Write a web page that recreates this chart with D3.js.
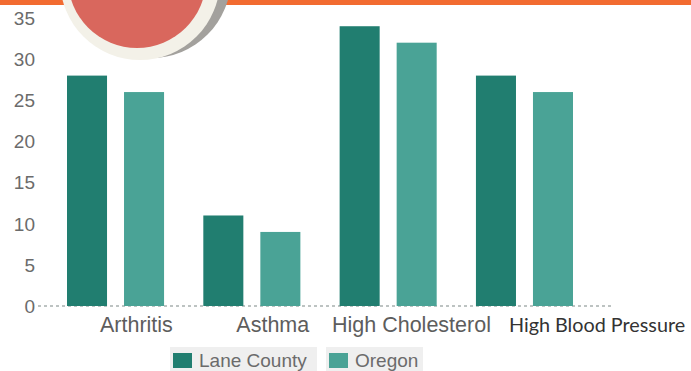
<!DOCTYPE html>
<html lang="en">
<head>
    <meta charset="UTF-8">
    <title>Chronic Conditions: Lane County vs Oregon</title>
    <script src="https://d3js.org/d3.v7.min.js"></script>
    <style>
        body {
            margin: 0;
            background: #fff;
            font-family: "Liberation Sans", Arial, sans-serif;
        }
        svg {
            display: block;
        }
        .tick-label {
            fill: #6b6b6b;
            font-size: 19px;
        }
        .cat-label {
            fill: #5d5d5d;
            font-size: 21.5px;
        }
        .legend-text {
            fill: #6b6b6b;
            font-size: 19px;
        }
    </style>
</head>
<body>
    <svg id="chart" width="691" height="371"></svg>

    <script>
        // Data
        const categories = ["Arthritis", "Asthma", "High Cholesterol", "High Blood Pressure"];
        const seriesNames = ["Lane County", "Oregon"];
        const laneCounty = [28, 11, 34, 28];
        const oregon = [26, 9, 32, 26];
        const yTicks = [0, 5, 10, 15, 20, 25, 30, 35];

        const colors = {"Lane County": "#217e70", "Oregon": "#4aa396"};

        const svg = d3.select("#chart");

        // header decoration: orange strip and badge
        svg.append("rect")
            .attr("x", 0).attr("y", 0)
            .attr("width", 691).attr("height", 5)
            .attr("fill", "#f26b30");

        svg.append("circle")
            .attr("cx", 151).attr("cy", -22).attr("r", 80)
            .attr("fill", "#a3a19d");
        svg.append("circle")
            .attr("cx", 140).attr("cy", -20).attr("r", 80)
            .attr("fill", "#f3f1e8");
        svg.append("circle")
            .attr("cx", 137).attr("cy", -21).attr("r", 69)
            .attr("fill", "#d9675d");

        // Scales
        const y = d3.scaleLinear()
            .domain([0, 35])
            .range([306, 18]);

        const x0 = d3.scaleBand()
            .domain(categories)
            .range([67, 573])
            .paddingInner(0.288)
            .paddingOuter(0);

        const x1 = d3.scaleBand()
            .domain(seriesNames)
            .range([0, x0.bandwidth()])
            .paddingInner(0.298);

        // y tick labels
        svg.append("g")
            .selectAll("text")
            .data(yTicks)
            .join("text")
            .attr("class", "tick-label")
            .attr("x", 35)
            .attr("y", d => y(d))
            .attr("dy", "0.36em")
            .attr("text-anchor", "end")
            .text(d => d);

        // baseline
        svg.append("line")
            .attr("x1", 38).attr("x2", 612)
            .attr("y1", y(0)).attr("y2", y(0))
            .attr("stroke", "#a8b0ae")
            .attr("stroke-width", 1.3)
            .attr("stroke-dasharray", "3,3");

        // bars
        const rows = categories.map((c, i) => ({
            category: c,
            values: [
                {series: "Lane County", value: laneCounty[i]},
                {series: "Oregon", value: oregon[i]}
            ]
        }));

        svg.append("g")
            .selectAll("g")
            .data(rows)
            .join("g")
            .attr("transform", d => `translate(${x0(d.category)},0)`)
            .selectAll("rect")
            .data(d => d.values)
            .join("rect")
            .attr("x", d => x1(d.series))
            .attr("y", d => y(d.value))
            .attr("width", x1.bandwidth())
            .attr("height", d => y(0) - y(d.value))
            .attr("fill", d => colors[d.series]);

        // category labels: start a bit inside the group, pushed left if they would collide
        const catG = svg.append("g");
        const labels = catG.selectAll("text")
            .data(categories)
            .join("text")
            .attr("class", "cat-label")
            .attr("x", d => x0(d) + 33)
            .attr("y", 332)
            .style("font-family", d => d === "High Blood Pressure" ? "Lato, 'Open Sans', sans-serif" : null)
            .style("font-size", d => d === "High Blood Pressure" ? "19.8px" : null)
            .style("fill", d => d === "High Blood Pressure" ? "#333" : null)
            .text(d => d);

        const nodes = labels.nodes();
        for (let i = nodes.length - 2; i >= 0; i--) {
            const box = nodes[i].getBBox();
            const nextX = +nodes[i + 1].getAttribute("x");
            if (box.x + box.width > nextX - 18) {
                nodes[i].setAttribute("x", nextX - 18 - box.width);
            }
        }

        // legend
        const legendItems = [
            {name: "Lane County", x: 170, w: 147},
            {name: "Oregon", x: 326, w: 97}
        ];
        const legend = svg.append("g")
            .selectAll("g")
            .data(legendItems)
            .join("g")
            .attr("transform", d => `translate(${d.x},347)`);

        legend.append("rect")
            .attr("width", d => d.w)
            .attr("height", 26)
            .attr("fill", "#efefef");

        legend.append("rect")
            .attr("x", 3).attr("y", 6)
            .attr("width", 19).attr("height", 15)
            .attr("fill", d => colors[d.name]);

        legend.append("text")
            .attr("class", "legend-text")
            .attr("x", 29)
            .attr("y", 20)
            .text(d => d.name);
    </script>
</body>
</html>
